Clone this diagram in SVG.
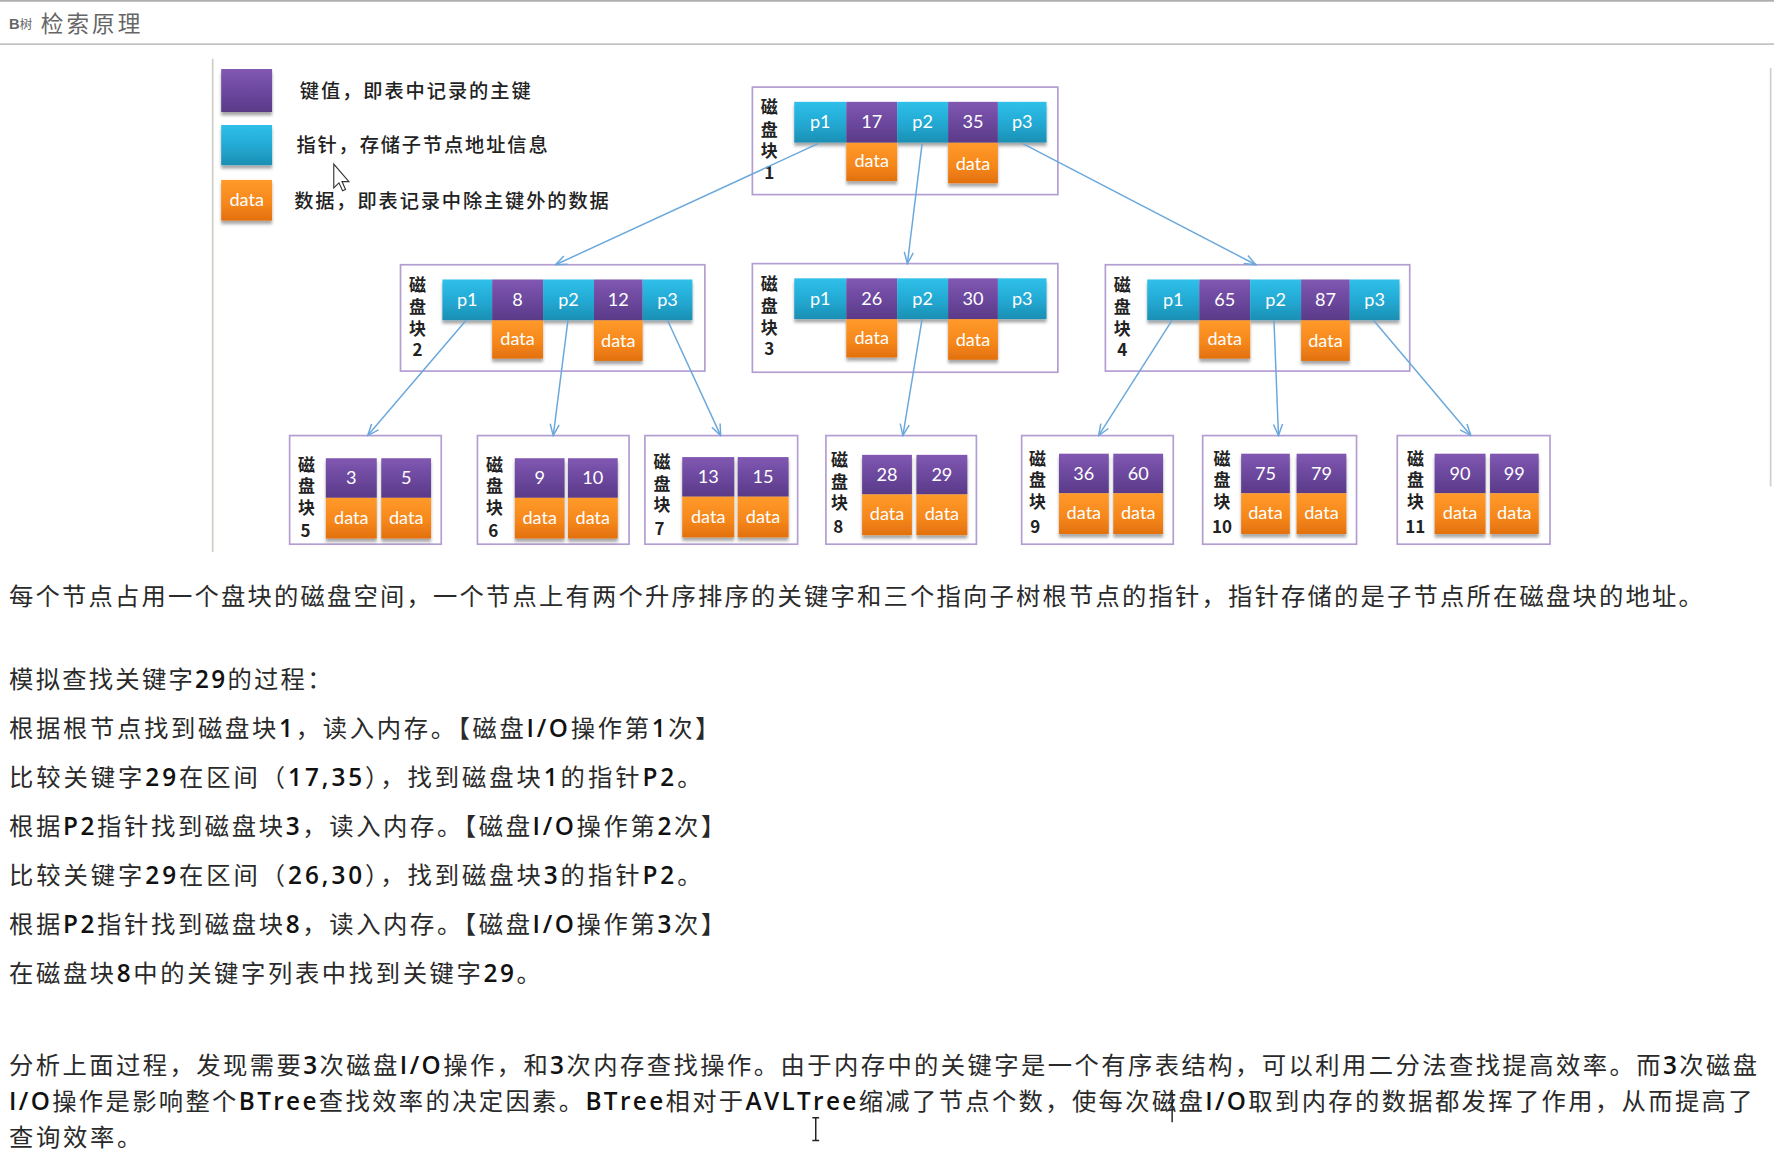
<svg xmlns="http://www.w3.org/2000/svg" width="1774" height="1160" viewBox="0 0 1774 1160">
<defs>
<linearGradient id="gc" x1="0" y1="0" x2="0" y2="1"><stop offset="0" stop-color="#2fc0ea"/><stop offset="0.55" stop-color="#22a8d2"/><stop offset="1" stop-color="#1c8fb3"/></linearGradient>
<linearGradient id="gp" x1="0" y1="0" x2="0" y2="1"><stop offset="0" stop-color="#8158b2"/><stop offset="0.55" stop-color="#6a479c"/><stop offset="1" stop-color="#5a3a88"/></linearGradient>
<linearGradient id="go" x1="0" y1="0" x2="0" y2="1"><stop offset="0" stop-color="#ff9a2a"/><stop offset="0.6" stop-color="#f5861a"/><stop offset="1" stop-color="#e2700e"/></linearGradient>
<linearGradient id="fadeH" x1="0" y1="0" x2="1" y2="0"><stop offset="0" stop-color="#c9c9c0"/><stop offset="1" stop-color="#ffffff"/></linearGradient>
<filter id="sh" x="-20%" y="-20%" width="140%" height="160%"><feDropShadow dx="0" dy="3" stdDeviation="1.6" flood-color="#000" flood-opacity="0.35"/></filter>
<marker id="ar" viewBox="0 0 12 10" refX="11" refY="5" markerWidth="12" markerHeight="10" markerUnits="userSpaceOnUse" orient="auto"><path d="M1,1 L11,5 L1,9" fill="none" stroke="#6aa8dc" stroke-width="1.3"/></marker>
<style>
.box{fill:none;stroke:#b39ed2;stroke-width:1.5}
.cy{fill:url(#gc)}
.pu{fill:url(#gp)}
.or{fill:url(#go)}
.ct{font-family:Lato,"Open Sans","Liberation Sans",sans-serif;font-size:16px;fill:#fff;text-anchor:middle}
.lb{font-family:"Noto Sans CJK SC",sans-serif;font-size:15px;font-weight:700;fill:#222;text-anchor:middle}
.lg{font-family:"Noto Sans CJK SC",sans-serif;font-size:17px;font-weight:500;fill:#222}
.tx{font-family:"Noto Sans CJK SC",sans-serif;font-size:21.5px;fill:#2a2a2a}
.b{font-family:"Open Sans","Noto Sans CJK SC",sans-serif;font-weight:600;fill:#111}
.cn{fill:none;stroke:#6aa8dc;stroke-width:1.3;marker-end:url(#ar)}
</style>
</defs>
<rect x="0" y="0" width="1774" height="1160" fill="#fff"/>
<g transform="scale(1.1314)">
<!-- header -->
<g id="header">
<line x1="0" y1="0.8" x2="1568" y2="0.8" stroke="#b0b0b0" stroke-width="1.5"/>
<line x1="0" y1="39" x2="1568" y2="39" stroke="#c2c2c2" stroke-width="1.5"/>
<text x="8" y="26" font-family="Liberation Sans,sans-serif" font-size="13" font-weight="700" fill="#666">B<tspan font-family="Noto Sans CJK SC,sans-serif" font-size="11" font-weight="400">树</tspan></text>
<text x="36" y="28" font-family="Noto Sans CJK SC,sans-serif" font-size="20" fill="#666" textLength="88" lengthAdjust="spacing">检索原理</text>
<line x1="1565" y1="60" x2="1565" y2="430" stroke="#cfcfcf" stroke-width="1.5"/>
</g>
<!-- legend panel -->
<g id="legend">
<line x1="188" y1="52" x2="188" y2="488" stroke="#cfcfc6" stroke-width="1.5"/>
<line x1="188" y1="488" x2="330" y2="488" stroke="url(#fadeH)" stroke-width="2"/>
<line x1="188" y1="52" x2="290" y2="52" stroke="url(#fadeH)" stroke-width="1" opacity="0.6"/>
<rect x="195.5" y="61" width="45" height="38" class="pu" filter="url(#sh)"/>
<rect x="195.5" y="110.5" width="45" height="35.5" class="cy" filter="url(#sh)"/>
<rect x="195.5" y="159" width="45" height="36" class="or" filter="url(#sh)"/>
<text x="218" y="182" class="ct">data</text>
<text x="265" y="87" class="lg" textLength="204" lengthAdjust="spacing">键值，即表中记录的主键</text>
<text x="262" y="134" class="lg" textLength="222" lengthAdjust="spacing">指针，存储子节点地址信息</text>
<text x="260" y="184" class="lg" textLength="278" lengthAdjust="spacing">数据，即表记录中除主键外的数据</text>
<path d="M295,145 L295,166 L299.6,161.6 L302.8,168.6 L305.4,167.4 L302.3,160.5 L308.4,160.5 Z" fill="#fff" stroke="#333" stroke-width="1"/>
</g>
<!-- internal nodes -->
<g id="node1" transform="translate(665,77)">
<rect class="box" x="0" y="0" width="270" height="95"/>
<text class="lb" x="15" y="23">磁</text><text class="lb" x="15" y="43">盘</text><text class="lb" x="15" y="62">块</text><text class="lb" x="15" y="81">1</text>
<g filter="url(#sh)">
<rect class="or" x="83" y="49" width="45" height="34"/><rect class="or" x="173" y="49" width="44" height="36"/>
<rect class="cy" x="37" y="13" width="46" height="36"/><rect class="pu" x="83" y="13" width="45" height="36"/><rect class="cy" x="128" y="13" width="45" height="36"/><rect class="pu" x="173" y="13" width="44" height="36"/><rect class="cy" x="217" y="13" width="43" height="36"/>
</g>
<text class="ct" x="60" y="36.5">p1</text><text class="ct" x="105.5" y="36.5">17</text><text class="ct" x="150.5" y="36.5">p2</text><text class="ct" x="195" y="36.5">35</text><text class="ct" x="238.5" y="36.5">p3</text>
<text class="ct" x="105.5" y="71">data</text><text class="ct" x="195" y="73">data</text>
</g>
<g id="node2" transform="translate(354,234)">
<rect class="box" x="0" y="0" width="269" height="94"/>
<text class="lb" x="15" y="23">磁</text><text class="lb" x="15" y="43">盘</text><text class="lb" x="15" y="62">块</text><text class="lb" x="15" y="81">2</text>
<g filter="url(#sh)">
<rect class="or" x="81" y="49" width="45" height="34"/><rect class="or" x="171" y="49" width="43" height="36"/>
<rect class="cy" x="37" y="13" width="44" height="36"/><rect class="pu" x="81" y="13" width="45" height="36"/><rect class="cy" x="126" y="13" width="45" height="36"/><rect class="pu" x="171" y="13" width="43" height="36"/><rect class="cy" x="214" y="13" width="44" height="36"/>
</g>
<text class="ct" x="59" y="36.5">p1</text><text class="ct" x="103.5" y="36.5">8</text><text class="ct" x="148.5" y="36.5">p2</text><text class="ct" x="192.5" y="36.5">12</text><text class="ct" x="236" y="36.5">p3</text>
<text class="ct" x="103.5" y="71">data</text><text class="ct" x="192.5" y="73">data</text>
</g>
<g id="node3" transform="translate(665,233)">
<rect class="box" x="0" y="0" width="270" height="96"/>
<text class="lb" x="15" y="23">磁</text><text class="lb" x="15" y="43">盘</text><text class="lb" x="15" y="62">块</text><text class="lb" x="15" y="81">3</text>
<g filter="url(#sh)">
<rect class="or" x="83" y="49" width="45" height="34"/><rect class="or" x="173" y="49" width="44" height="36"/>
<rect class="cy" x="37" y="13" width="46" height="36"/><rect class="pu" x="83" y="13" width="45" height="36"/><rect class="cy" x="128" y="13" width="45" height="36"/><rect class="pu" x="173" y="13" width="44" height="36"/><rect class="cy" x="217" y="13" width="43" height="36"/>
</g>
<text class="ct" x="60" y="36.5">p1</text><text class="ct" x="105.5" y="36.5">26</text><text class="ct" x="150.5" y="36.5">p2</text><text class="ct" x="195" y="36.5">30</text><text class="ct" x="238.5" y="36.5">p3</text>
<text class="ct" x="105.5" y="71">data</text><text class="ct" x="195" y="73">data</text>
</g>
<g id="node4" transform="translate(977,234)">
<rect class="box" x="0" y="0" width="269" height="94"/>
<text class="lb" x="15" y="23">磁</text><text class="lb" x="15" y="43">盘</text><text class="lb" x="15" y="62">块</text><text class="lb" x="15" y="81">4</text>
<g filter="url(#sh)">
<rect class="or" x="83" y="49" width="45" height="34"/><rect class="or" x="173" y="49" width="43" height="36"/>
<rect class="cy" x="37" y="13" width="46" height="36"/><rect class="pu" x="83" y="13" width="45" height="36"/><rect class="cy" x="128" y="13" width="45" height="36"/><rect class="pu" x="173" y="13" width="43" height="36"/><rect class="cy" x="216" y="13" width="44" height="36"/>
</g>
<text class="ct" x="60" y="36.5">p1</text><text class="ct" x="105.5" y="36.5">65</text><text class="ct" x="150.5" y="36.5">p2</text><text class="ct" x="194.5" y="36.5">87</text><text class="ct" x="238" y="36.5">p3</text>
<text class="ct" x="105.5" y="71">data</text><text class="ct" x="194.5" y="73">data</text>
</g>
<!-- leaf nodes -->
<g id="node5" transform="translate(256,385)">
<rect class="box" x="0" y="0" width="134" height="96"/>
<text class="lb" x="15" y="31">磁</text><text class="lb" x="15" y="50">盘</text><text class="lb" x="15" y="69">块</text><text class="lb" x="14" y="90">5</text>
<g filter="url(#sh)"><rect class="pu" x="32" y="20" width="45" height="35"/><rect class="pu" x="81" y="20" width="44" height="35"/><rect class="or" x="32" y="55" width="45" height="36"/><rect class="or" x="81" y="55" width="44" height="36"/></g>
<text class="ct" x="54.5" y="43">3</text><text class="ct" x="103" y="43">5</text><text class="ct" x="54.5" y="78">data</text><text class="ct" x="103" y="78">data</text>
</g>
<g id="node6" transform="translate(422,385)">
<rect class="box" x="0" y="0" width="134" height="96"/>
<text class="lb" x="15" y="31">磁</text><text class="lb" x="15" y="50">盘</text><text class="lb" x="15" y="69">块</text><text class="lb" x="14" y="90">6</text>
<g filter="url(#sh)"><rect class="pu" x="33" y="20" width="44" height="35"/><rect class="pu" x="80" y="20" width="44" height="35"/><rect class="or" x="33" y="55" width="44" height="36"/><rect class="or" x="80" y="55" width="44" height="36"/></g>
<text class="ct" x="55" y="43">9</text><text class="ct" x="102" y="43">10</text><text class="ct" x="55" y="78">data</text><text class="ct" x="102" y="78">data</text>
</g>
<g id="node7" transform="translate(570,385)">
<rect class="box" x="0" y="0" width="135" height="96"/>
<text class="lb" x="15" y="29">磁</text><text class="lb" x="15" y="48">盘</text><text class="lb" x="15" y="67">块</text><text class="lb" x="13" y="88">7</text>
<g filter="url(#sh)"><rect class="pu" x="33" y="19" width="46" height="35"/><rect class="pu" x="82" y="19" width="45" height="35"/><rect class="or" x="33" y="54" width="46" height="36"/><rect class="or" x="82" y="54" width="45" height="36"/></g>
<text class="ct" x="56" y="42">13</text><text class="ct" x="104.5" y="42">15</text><text class="ct" x="56" y="77">data</text><text class="ct" x="104.5" y="77">data</text>
</g>
<g id="node8" transform="translate(730,385)">
<rect class="box" x="0" y="0" width="133" height="96"/>
<text class="lb" x="12" y="27">磁</text><text class="lb" x="12" y="46">盘</text><text class="lb" x="12" y="65">块</text><text class="lb" x="11" y="86">8</text>
<g filter="url(#sh)"><rect class="pu" x="32" y="17" width="44" height="35"/><rect class="pu" x="80" y="17" width="45" height="35"/><rect class="or" x="32" y="52" width="44" height="36"/><rect class="or" x="80" y="52" width="45" height="36"/></g>
<text class="ct" x="54" y="40">28</text><text class="ct" x="102.5" y="40">29</text><text class="ct" x="54" y="75">data</text><text class="ct" x="102.5" y="75">data</text>
</g>
<g id="node9" transform="translate(903,385)">
<rect class="box" x="0" y="0" width="134" height="96"/>
<text class="lb" x="14" y="26">磁</text><text class="lb" x="14" y="45">盘</text><text class="lb" x="14" y="64">块</text><text class="lb" x="12" y="86">9</text>
<g filter="url(#sh)"><rect class="pu" x="33" y="16" width="44" height="35"/><rect class="pu" x="81" y="16" width="44" height="35"/><rect class="or" x="33" y="51" width="44" height="36"/><rect class="or" x="81" y="51" width="44" height="36"/></g>
<text class="ct" x="55" y="39">36</text><text class="ct" x="103" y="39">60</text><text class="ct" x="55" y="74">data</text><text class="ct" x="103" y="74">data</text>
</g>
<g id="node10" transform="translate(1063,385)">
<rect class="box" x="0" y="0" width="136" height="96"/>
<text class="lb" x="17" y="26">磁</text><text class="lb" x="17" y="45">盘</text><text class="lb" x="17" y="64">块</text><text class="lb" x="17" y="86">10</text>
<g filter="url(#sh)"><rect class="pu" x="34" y="16" width="43" height="35"/><rect class="pu" x="83" y="16" width="44" height="35"/><rect class="or" x="34" y="51" width="43" height="36"/><rect class="or" x="83" y="51" width="44" height="36"/></g>
<text class="ct" x="55.5" y="39">75</text><text class="ct" x="105" y="39">79</text><text class="ct" x="55.5" y="74">data</text><text class="ct" x="105" y="74">data</text>
</g>
<g id="node11" transform="translate(1235,385)">
<rect class="box" x="0" y="0" width="135" height="96"/>
<text class="lb" x="16" y="26">磁</text><text class="lb" x="16" y="45">盘</text><text class="lb" x="16" y="64">块</text><text class="lb" x="16" y="86">11</text>
<g filter="url(#sh)"><rect class="pu" x="33" y="16" width="45" height="35"/><rect class="pu" x="82" y="16" width="43" height="35"/><rect class="or" x="33" y="51" width="45" height="36"/><rect class="or" x="82" y="51" width="43" height="36"/></g>
<text class="ct" x="55.5" y="39">90</text><text class="ct" x="103.5" y="39">99</text><text class="ct" x="55.5" y="74">data</text><text class="ct" x="103.5" y="74">data</text>
</g>
<!-- connectors -->
<g id="connectors">
<line class="cn" x1="723" y1="127" x2="491" y2="234"/>
<line class="cn" x1="815" y1="127" x2="802" y2="233"/>
<line class="cn" x1="904" y1="127" x2="1110" y2="234"/>
<line class="cn" x1="412" y1="283" x2="325" y2="385"/>
<line class="cn" x1="502" y1="283" x2="489" y2="385"/>
<line class="cn" x1="590" y1="283" x2="637" y2="385"/>
<line class="cn" x1="815" y1="282" x2="798" y2="385"/>
<line class="cn" x1="1036" y1="283" x2="971" y2="385"/>
<line class="cn" x1="1126" y1="283" x2="1130" y2="385"/>
<line class="cn" x1="1214" y1="283" x2="1300" y2="385"/>
</g>
<!-- body text -->
<g id="body">
<text class="tx" x="8" y="535" textLength="1497" lengthAdjust="spacing">每个节点占用一个盘块的磁盘空间，一个节点上有两个升序排序的关键字和三个指向子树根节点的指针，指针存储的是子节点所在磁盘块的地址。</text>
<text class="tx" x="8" y="608" textLength="285" lengthAdjust="spacing">模拟查找关键字<tspan class="b">29</tspan>的过程：</text>
<text class="tx" x="8" y="651" textLength="628" lengthAdjust="spacing">根据根节点找到磁盘块<tspan class="b">1</tspan>，读入内存。【磁盘<tspan class="b">I/O</tspan>操作第<tspan class="b">1</tspan>次】</text>
<text class="tx" x="8" y="695" textLength="612" lengthAdjust="spacing">比较关键字<tspan class="b">29</tspan>在区间（<tspan class="b">17,35</tspan>），找到磁盘块<tspan class="b">1</tspan>的指针<tspan class="b">P2</tspan>。</text>
<text class="tx" x="8" y="738" textLength="633" lengthAdjust="spacing">根据<tspan class="b">P2</tspan>指针找到磁盘块<tspan class="b">3</tspan>，读入内存。【磁盘<tspan class="b">I/O</tspan>操作第<tspan class="b">2</tspan>次】</text>
<text class="tx" x="8" y="781" textLength="612" lengthAdjust="spacing">比较关键字<tspan class="b">29</tspan>在区间（<tspan class="b">26,30</tspan>），找到磁盘块<tspan class="b">3</tspan>的指针<tspan class="b">P2</tspan>。</text>
<text class="tx" x="8" y="825" textLength="633" lengthAdjust="spacing">根据<tspan class="b">P2</tspan>指针找到磁盘块<tspan class="b">8</tspan>，读入内存。【磁盘<tspan class="b">I/O</tspan>操作第<tspan class="b">3</tspan>次】</text>
<text class="tx" x="8" y="868" textLength="470" lengthAdjust="spacing">在磁盘块<tspan class="b">8</tspan>中的关键字列表中找到关键字<tspan class="b">29</tspan>。</text>
<text class="tx" x="8" y="949" textLength="1545" lengthAdjust="spacing">分析上面过程，发现需要<tspan class="b">3</tspan>次磁盘<tspan class="b">I/O</tspan>操作，和<tspan class="b">3</tspan>次内存查找操作。由于内存中的关键字是一个有序表结构，可以利用二分法查找提高效率。而<tspan class="b">3</tspan>次磁盘</text>
<text class="tx" x="8" y="981" textLength="1541" lengthAdjust="spacing"><tspan class="b">I/O</tspan>操作是影响整个<tspan class="b">BTree</tspan>查找效率的决定因素。<tspan class="b">BTree</tspan>相对于<tspan class="b">AVLTree</tspan>缩减了节点个数，使每次磁盘<tspan class="b">I/O</tspan>取到内存的数据都发挥了作用，从而提高了</text>
<text class="tx" x="8" y="1013" textLength="117" lengthAdjust="spacing">查询效率。</text>
<line x1="1036" y1="965" x2="1036" y2="992" stroke="#111" stroke-width="1.2"/>
<path d="M718,988 L724,988 M721,988 L721,1008 M718,1008 L724,1008" fill="none" stroke="#222" stroke-width="1.3"/>
</g>
</g>
</svg>
